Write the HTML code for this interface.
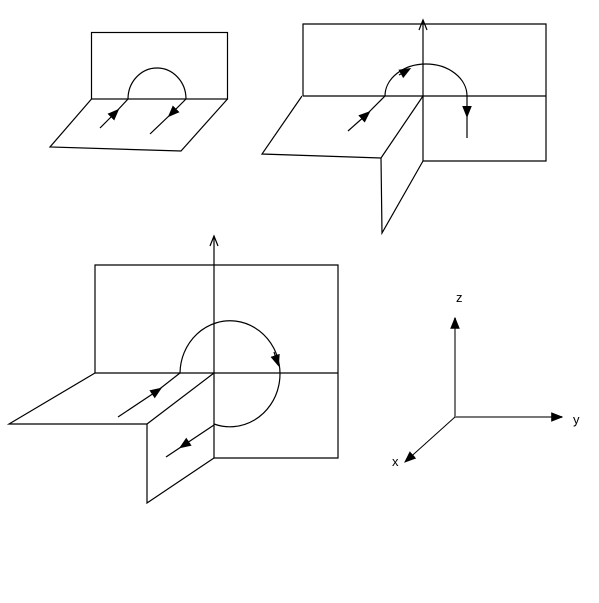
<!DOCTYPE html>
<html><head><meta charset="utf-8"><style>
html,body{margin:0;padding:0;background:#fff;}
svg{display:block;font-family:"Liberation Sans",sans-serif;}
</style></head><body>
<svg width="599" height="603" viewBox="0 0 599 603">
<defs>
<marker id="ah" viewBox="0 0 10 10" refX="5" refY="5" markerWidth="12" markerHeight="12" markerUnits="userSpaceOnUse" orient="auto"><path d="M0,1 L10,5 L0,9 z" fill="#000"/></marker>
<marker id="ah2" viewBox="0 0 10 10" refX="9" refY="5" markerWidth="12" markerHeight="12" markerUnits="userSpaceOnUse" orient="auto"><path d="M0,1 L10,5 L0,9 z" fill="#000"/></marker>
</defs>
<g fill="none" stroke="#000" stroke-width="1.2">
<!-- Figure 1 -->
<g>
<rect x="91.5" y="32.5" width="136" height="66.5"/>
<path d="M91.5,99 L50,147 L181,151 L227.5,99"/>
<path d="M128,99 A29,31 0 0 1 186,99"/>
<path d="M100,128 L115,113" marker-end="url(#ah)"/><path d="M115,113 L128,99"/>
<path d="M186,99 L172,113" marker-end="url(#ah)"/><path d="M172,113 L150,134"/>
</g>
<!-- Figure 2 -->
<g>
<path d="M303,96 L303,24 L546,24 L546,161 L423,161 M303,96 L546,96"/>
<path d="M423,161 L423,20"/>
<path d="M419,30 L423,20 L427,30"/>
<path d="M302,96 L262,154 L381,158 L423,96"/>
<path d="M381,158 L382,233 L423,161"/>
<path d="M385,96 A41,32 0 0 1 467,96"/>
<path d="M399,75 L406,71" marker-end="url(#ah)"/>
<path d="M467,96 L467,112" marker-end="url(#ah)"/><path d="M467,112 L467,138"/>
<path d="M348,131 L366,115" marker-end="url(#ah)"/><path d="M366,115 L385,96"/>
</g>
<!-- Figure 3 -->
<g>
<path d="M95,373 L95,265 L338,265 L338,458 L214,458 M95,373 L338,373"/>
<path d="M214,458 L214,236"/>
<path d="M210,246 L214,236 L218,246"/>
<path d="M95,373 L9,424 L147,424 L214,373"/>
<path d="M147,424 L147,503 L214,458"/>
<path d="M180,373 A50,53 0 1 1 214,424"/>
<path d="M274,352 L277,361" marker-end="url(#ah)"/>
<path d="M118,417 L157,391" marker-end="url(#ah)"/><path d="M157,391 L180,373"/>
<path d="M214,425 L184,445" marker-end="url(#ah)"/><path d="M184,445 L166,457"/>
</g>
</g>
<!-- Axes -->
<g stroke="#777" stroke-width="2" fill="none">
<path d="M455,417 L455,318" marker-end="url(#ah2)"/>
<path d="M455,417 L562,417" marker-end="url(#ah2)"/>
<path d="M455,417 L405,462" stroke="#000" stroke-width="1" marker-end="url(#ah2)"/>
</g>
<text x="456" y="302" font-size="13" fill="#000">z</text>
<text x="573" y="424" font-size="13" fill="#000">y</text>
<text x="392" y="466" font-size="13" fill="#000">x</text>
</svg>
</body></html>
